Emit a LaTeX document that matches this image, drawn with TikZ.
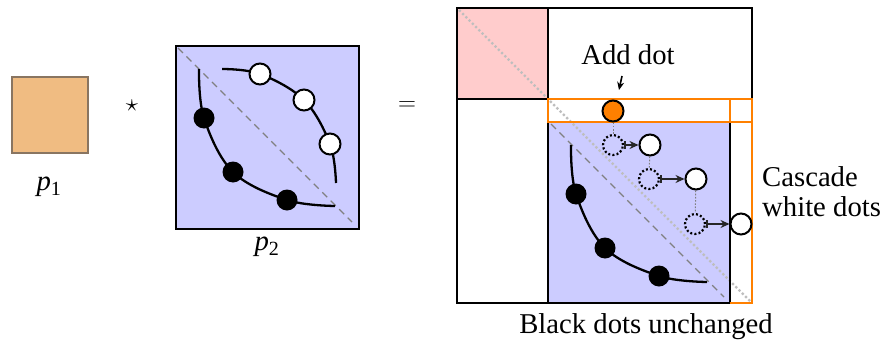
\documentclass[tikz,border=0pt]{standalone}
\usepackage{fontspec}
\setmainfont{Liberation Serif}
\usetikzlibrary{arrows.meta}
\definecolor{lav}{RGB}{204,204,255}
\definecolor{pinkc}{RGB}{255,204,204}
\definecolor{tanc}{RGB}{240,188,130}
\definecolor{orng}{RGB}{255,128,0}
\definecolor{lgray}{RGB}{190,190,190}
\begin{document}
\begin{tikzpicture}[x=1pt,y=-1pt,
  font=\fontsize{28.7}{30}\selectfont,
  boxline/.style={draw=black, line width=2.6pt},
  bdot/.style={circle, fill=black, minimum size=21pt, inner sep=0pt},
  wdot/.style={circle, draw=black, fill=white, line width=2pt, minimum size=21pt, inner sep=0pt},
  ghost/.style={circle, draw=black, line width=2.2pt, dash pattern=on 2pt off 2.2pt, minimum size=20pt, inner sep=0pt},
  odot/.style={circle, draw=black, fill=orng, line width=2pt, minimum size=21pt, inner sep=0pt},
  curveline/.style={line width=2.3pt},
  diagdash/.style={gray, line width=1.2pt, dash pattern=on 7pt off 5pt},
  diagdot/.style={lgray, line width=2.4pt, dash pattern=on 2.2pt off 2.4pt},
  olines/.style={orng, line width=2pt},
  mover/.style={{Bar[width=8pt,line width=1.4pt]}-{Stealth[length=9pt,width=8pt]}, line width=1.4pt, black!85},
  link/.style={gray, line width=1pt, dash pattern=on 1.6pt off 1.6pt}
]
\useasboundingbox (0,0) rectangle (885,348);

% p1
\draw[fill=tanc, draw=black!55!brown!70, line width=2pt] (12,77) rectangle (88,153);
\node (p1lab) at (49,187) {\textit{p}\textsubscript{1}};
\node (star) at (132,106) {\fontsize{38}{38}\selectfont$\star$};

% p2
\draw[boxline, fill=lav] (176,46) rectangle (359,229);
\draw[diagdash] (178,48) -- (352,222);
\begin{scope}[shift={(176,46)}]
  \draw[curveline] plot[smooth, tension=0.6] coordinates {(23,23) (28,72) (57,126) (111,154) (159,160)};
  \draw[curveline] plot[smooth, tension=0.6] coordinates {(46,23) (84,28) (128,54) (154,98) (160,137)};
  \node[bdot] (b1) at (28,72) {};
  \node[bdot] (b2) at (57,126) {};
  \node[bdot] (b3) at (111,154) {};
  \node[wdot] (w1) at (84,28) {};
  \node[wdot] (w2) at (128,54) {};
  \node[wdot] (w3) at (154,98) {};
\end{scope}
\node (p2lab) at (267,247) {\textit{p}\textsubscript{2}};
\node (eq) at (407,106) {$=$};

% big matrix
\draw[fill=pinkc] (457,8) rectangle (548,99);
\draw[fill=white] (548,8) rectangle (752,99);
\draw[fill=white] (457,99) rectangle (548,303);
\draw[fill=white] (548,99) rectangle (752,303);
\draw[fill=lav] (548,122) rectangle (730,303);
\draw[diagdash] (551,124) -- (724,297);
\begin{scope}[shift={(548,122)}]
  \draw[curveline] plot[smooth, tension=0.6] coordinates {(23,23) (28,72) (57,126) (111,154) (159,160)};
  \node[bdot] (ib1) at (28,72) {};
  \node[bdot] (ib2) at (57,126) {};
  \node[bdot] (ib3) at (111,154) {};
\end{scope}
\draw[diagdot] (459,10) -- (751,302);
% black borders
\draw[boxline] (457,8) rectangle (752,99);
\draw[boxline] (548,8) -- (548,99);
\draw[boxline] (457,99) rectangle (548,303);
\draw[boxline] (548,122) rectangle (730,303);
% orange borders
\draw[olines] (548,99) rectangle (752,122);
\draw[olines] (730,99) -- (730,122);
\draw[olines] (752,122) -- (752,303) -- (730,303);

% dots cascade
\node[odot] (od) at (613,111) {};
\node[ghost] (g1) at (613,145) {};
\node[wdot] (nw1) at (650,145) {};
\node[ghost] (g2) at (649,179) {};
\node[wdot] (nw2) at (696,179) {};
\node[ghost] (g3) at (695,224) {};
\node[wdot] (nw3) at (741,224) {};
\draw[link] (od) -- (g1);
\draw[link] (nw1) -- (g2);
\draw[link] (nw2) -- (g3);
\draw[mover] (g1) -- (nw1);
\draw[mover] (g2) -- (nw2);
\draw[mover] (g3) -- (nw3);

% labels
\node (add) at (628,55) {Add dot};
\coordinate (addA) at (622,76);
\coordinate (addB) at (619,90);
\draw[-{Stealth[length=8pt,width=7pt]}, line width=1.6pt] (addA) -- (addB);
\node[align=left, anchor=west, inner sep=0pt] (casc) at (762,192) {\fontsize{28.7}{22}\selectfont Cascade\\white dots};
\node (blk) at (646,327) {Black dots unchanged};
\end{tikzpicture}
\end{document}
